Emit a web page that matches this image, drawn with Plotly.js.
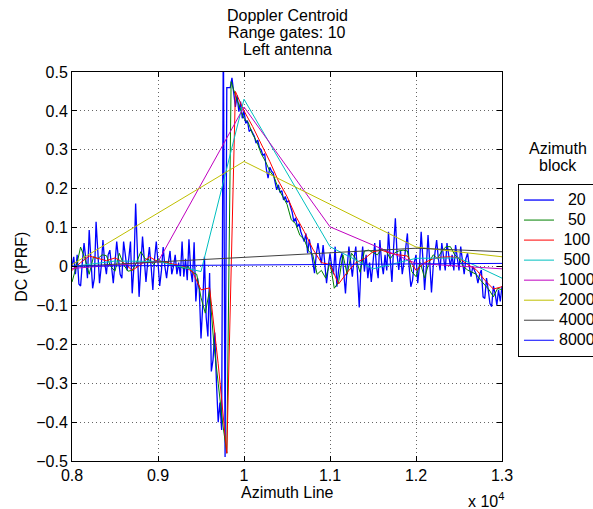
<!DOCTYPE html>
<html>
<head>
<meta charset="utf-8">
<script src="https://cdn.plot.ly/plotly-3.0.1.min.js"></script>
<style>html,body{margin:0;padding:0;background:#fff;}#chart{width:593px;height:509px;}</style>
</head>
<body>
<div id="chart"></div>
<script>
// ---------------- data ----------------
const blockSizes = [20, 50, 100, 500, 1000, 2000, 4000, 8000];
const seriesNames = ['\u200720', '\u200750', '\u2008100', '\u2008500', '1000', '2000', '4000', '8000'];
const seriesColors = ['#0000FF', '#008000', '#FF0000', '#00BFBF', '#BF00BF', '#BFBF00', '#404040', '#0000FF'];
const xStart = 8000;

// Azimuth block 20 (step 20, 8000..13000)
const dc20 = [
  // 8000
  0.0, 0.025, -0.02, 0.03, -0.045,
  -0.05, 0.01, 0.06, 0.02, -0.03,
  0.094, 0.03, -0.056, -0.03, 0.115,
  0.04, -0.043, 0.0, 0.068, 0.01,
  -0.02, 0.03, 0.042, 0.0, -0.043,
  // 8500
  0.01, 0.064, 0.02, -0.02, -0.03,
  0.064, 0.03, -0.01, 0.02, 0.064,
  -0.069, 0.0, 0.162, 0.03, -0.078,
  0.0, 0.077, 0.02, -0.04, 0.01,
  0.05, 0.0, -0.06, 0.02, 0.064,
  // 9000
  0.01, -0.05, -0.01, 0.05, 0.0,
  -0.03, 0.01, 0.04, -0.02, 0.0,
  0.03, -0.02, 0.01, -0.025, 0.064,
  -0.026, 0.02, -0.035, 0.07, -0.01,
  -0.04, 0.062, -0.09, -0.03, -0.06,
  // 9500
  -0.185, -0.10, 0.025, -0.13, -0.18,
  -0.017, -0.27, -0.24, -0.17, -0.30,
  -0.40, -0.35, -0.42, 0.62, -0.49,
  0.46, 0.46, 0.46, 0.485, 0.445,
  0.41, 0.44, 0.398, 0.424, 0.381,
  // 10000
  0.40, 0.368, 0.375, 0.347, 0.352,
  0.343, 0.335, 0.317, 0.325, 0.305,
  0.30, 0.285, 0.29, 0.25, 0.227,
  0.255, 0.245, 0.24, 0.215, 0.197,
  0.21, 0.19, 0.195, 0.171, 0.18,
  // 10500
  0.165, 0.17, 0.154, 0.14, 0.115,
  0.125, 0.102, 0.11, 0.09, 0.075,
  0.064, 0.085, 0.034, 0.07, 0.04,
  0.01, -0.017, 0.03, 0.06, 0.03,
  0.008, 0.055, 0.01, -0.043, 0.0,
  // 11000
  0.034, 0.0, -0.02, 0.051, -0.052,
  -0.01, 0.02, 0.034, -0.03, -0.069,
  0.0, 0.051, 0.01, -0.026, 0.02,
  0.051, -0.02, -0.105, 0.0, 0.051,
  -0.013, 0.03, -0.03, 0.01, -0.04,
  // 11500
  0.02, 0.06, 0.0, -0.03, 0.068,
  0.01, -0.02, 0.03, -0.01, 0.089,
  0.02, -0.04, 0.05, 0.124, 0.03,
  -0.009, 0.04, -0.02, 0.01, 0.05,
  0.085, 0.0, -0.052, -0.035, 0.01,
  // 12000
  0.03, -0.043, 0.0, 0.089, 0.02,
  -0.06, 0.0, 0.081, 0.01, -0.067,
  0.0, 0.04, 0.068, 0.02, -0.01,
  0.06, 0.02, -0.01, 0.06, 0.03,
  0.0, 0.03, -0.01, 0.055, 0.02,
  // 12500
  -0.01, 0.051, 0.01, -0.02, 0.02,
  0.034, 0.0, -0.026, 0.0, -0.01,
  -0.02, -0.043, -0.02, -0.009, -0.078,
  -0.082, -0.03, -0.06, -0.095, -0.103,
  -0.05, -0.07, -0.099, -0.06, -0.09,
  // 13000
  -0.05
];

// Azimuth block 50 (step 50)
const dc50 = [
  -0.04, 0.0, 0.05, 0.02, -0.02, 0.025, 0.02, 0.03, 0.028, 0.0,
  -0.012, 0.034, 0.005, -0.012, -0.01, 0.01, 0.038, 0.02, 0.017, 0.005,
  0.02, 0.01, 0.012, 0.005, 0.002, 0.0, -0.005, 0.0, -0.015, -0.02,
  -0.08, -0.12, -0.06, -0.2, -0.3, -0.4, -0.48, 0.475, 0.44, 0.41,
  0.38, 0.37, 0.34, 0.32, 0.29, 0.27, 0.245, 0.23, 0.2, 0.18,
  0.16, 0.12, 0.11, 0.08, 0.07, 0.04, 0.03, -0.02, -0.01, -0.03,
  0.01, -0.056, -0.04, 0.03, -0.02, 0.034, 0.02, -0.015, 0.04, 0.042,
  0.035, 0.03, 0.045, 0.042, 0.02, 0.035, 0.04, 0.042, 0.04, -0.013,
  -0.026, 0.01, -0.03, 0.01, 0.03, 0.02, 0.04, 0.051, 0.051, 0.03,
  0.02, 0.0, -0.009, -0.015, -0.02, -0.035, -0.048, -0.06, -0.078, -0.056,
  -0.06
];

// Azimuth block 100 (step 100)
const dc100 = [
  -0.01, 0.01, 0.027, 0.02, 0.015, 0.022, 0.01, -0.01, 0.005, 0.025,
  0.012, 0.01, 0.005, 0.0, -0.013, -0.06, -0.055, -0.25, -0.48, 0.45,
  0.40, 0.36, 0.315, 0.27, 0.22, 0.18, 0.13, 0.09, 0.045, 0.01,
  0.005, -0.045, -0.015, 0.01, 0.02, 0.038, 0.042, 0.034, 0.03, 0.027,
  -0.01, 0.01, 0.02, 0.024, 0.025, 0.022, 0.005, -0.008, -0.035, -0.058,
  -0.052
];

// Azimuth block 500 (step 500)
const dc500 = [0.0, 0.014, 0.013, -0.013, 0.43, 0.24, 0.051, -0.006, 0.021, 0.022, -0.03];
// Azimuth block 1000 (step 1000)
const dc1000 = [-0.005, 0.012, 0.41, 0.102, 0.008, -0.006];
// Azimuth block 2000
const x2000 = [8000, 10000, 12000, 13000];
const dc2000 = [0.005, 0.27, 0.05, 0.025];
// Azimuth block 4000
const x4000 = [8000, 12000, 13000];
const dc4000 = [0.0, 0.047, 0.038];
// Azimuth block 8000
const x8000 = [8000, 13000];
const dc8000 = [0.001, 0.008];

const xTickVals = [8000, 9000, 10000, 11000, 12000, 13000];
const xTickText = ['0.8', '0.9', '1', '1.1', '1.2', '1.3'];
const yTickVals = [-0.5, -0.4, -0.3, -0.2, -0.1, 0, 0.1, 0.2, 0.3, 0.4, 0.5];
const yTickText = ['\u22120.5', '\u22120.4', '\u22120.3', '\u22120.2', '\u22120.1', '0', '0.1', '0.2', '0.3', '0.4', '0.5'];
const titleLines = ['Doppler Centroid', 'Range gates: 10', 'Left antenna'];
const legendTitleLines = ['Azimuth', 'block'];

// ---------------- build ----------------
function regX(n, step) { const a = []; for (let i = 0; i < n; i++) a.push(xStart + i * step); return a; }

const ys = [dc20, dc50, dc100, dc500, dc1000, dc2000, dc4000, dc8000];
const xs = [regX(dc20.length, 20), regX(dc50.length, 50), regX(dc100.length, 100),
            regX(dc500.length, 500), regX(dc1000.length, 1000), x2000, x4000, x8000];

const FONT = 'Liberation Sans, Arial, Helvetica, sans-serif';
const traces = ys.map((y, k) => ({
  type: 'scatter', mode: 'lines', x: xs[k], y: y,
  name: '<span style="font-size:16px">' + seriesNames[k] + '</span>',
  line: { color: seriesColors[k], width: k === 0 ? 1.3 : 1 }
}));

const ann = [];
const titleY = [1.1465, 1.1015, 1.0566];
titleLines.forEach((t, i) => ann.push({ text: t, xref: 'paper', yref: 'paper', x: 0.5, y: titleY[i],
  xanchor: 'center', yanchor: 'middle', showarrow: false, font: { size: 16, color: '#000' } }));
ann.push({ text: 'Azimuth Line', xref: 'paper', yref: 'paper', x: 0.5, y: -0.082, xanchor: 'center', yanchor: 'middle', showarrow: false, font: { size: 16, color: '#000' } });
ann.push({ text: 'DC (PRF)', xref: 'paper', yref: 'paper', x: -0.118, y: 0.5, xanchor: 'center', yanchor: 'middle', textangle: -90, showarrow: false, font: { size: 16, color: '#000' } });
ann.push({ text: 'x 10<sup>4</sup>', xref: 'paper', yref: 'paper', x: 0.963, y: -0.100, xanchor: 'center', yanchor: 'middle', showarrow: false, font: { size: 16, color: '#000' } });
const legY = [0.8046, 0.7584];
legendTitleLines.forEach((t, i) => ann.push({ text: t, xref: 'paper', yref: 'paper', x: 1.130, y: legY[i],
  xanchor: 'center', yanchor: 'middle', showarrow: false, font: { size: 16, color: '#000' } }));

const axisCommon = {
  ticks: 'inside', ticklen: 5, tickcolor: '#000', showline: true, linecolor: '#000', linewidth: 1,
  mirror: 'ticks', showgrid: true, gridcolor: '#666', griddash: '1px,3px', gridwidth: 1, zeroline: false,
  tickfont: { size: 16, color: '#000' }, tickmode: 'array'
};

const layout = {
  width: 593, height: 509,
  margin: { l: 72, r: 91, t: 72, b: 48, autoexpand: false },
  paper_bgcolor: '#fff', plot_bgcolor: '#fff',
  font: { family: FONT, size: 16, color: '#000' },
  xaxis: Object.assign({}, axisCommon, { range: [8000, 13000], tickvals: xTickVals, ticktext: xTickText }),
  yaxis: Object.assign({}, axisCommon, { range: [-0.5, 0.5], tickvals: yTickVals, ticktext: yTickText }),
  showlegend: true,
  legend: { x: 1.0372, xanchor: 'left', y: 0.712, yanchor: 'top', bordercolor: '#000', borderwidth: 1,
            bgcolor: '#fff', font: { size: 13.1, color: '#000' }, tracegroupgap: 0, itemwidth: 30 },
  annotations: ann
};

Plotly.newPlot('chart', traces, layout, { displayModeBar: false, staticPlot: true });
</script>
</body>
</html>
